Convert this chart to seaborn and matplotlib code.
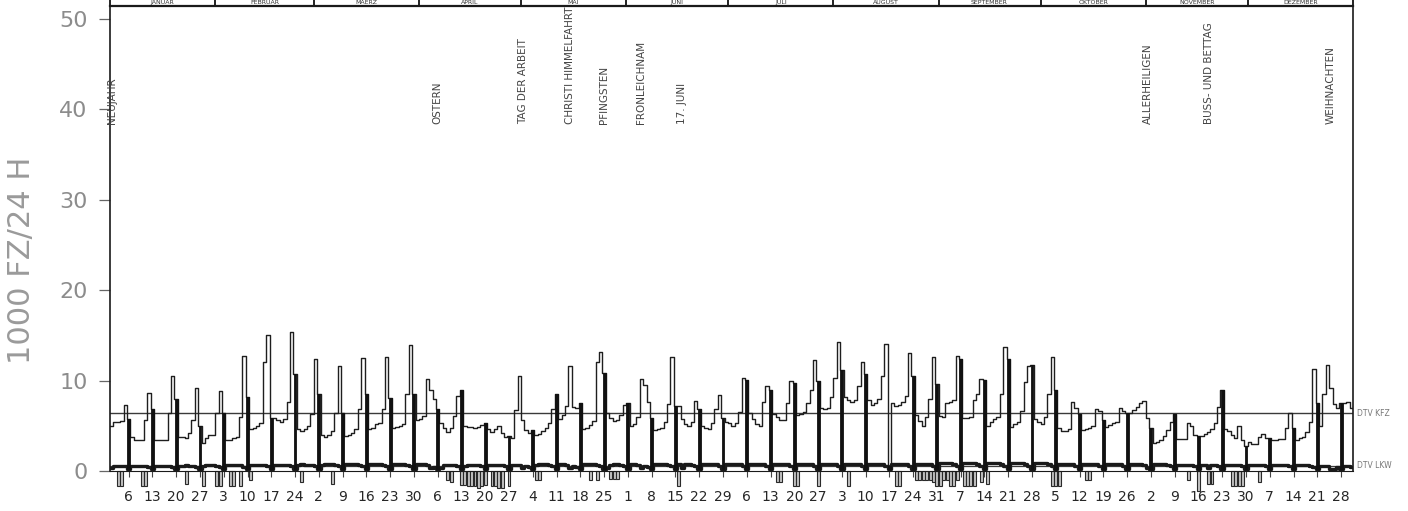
import numpy as np
import pandas as pd
import matplotlib
matplotlib.use("Agg")
import matplotlib.pyplot as plt
import matplotlib.transforms as mtransforms
import seaborn as sns

# -----------------------------
# Data: daily traffic 1980, 1000 Fz/24h, one row per week (Mon..Sun)
# -----------------------------
kfz_weeks = [
    [5.0, 5.4, 5.4, 5.5, 7.3, 5.8],
    [3.8, 3.4, 3.4, 3.4, 5.6, 8.6, 6.9],
    [3.4, 3.4, 3.4, 3.4, 6.4, 10.5, 8.0],
    [3.8, 3.8, 3.6, 4.2, 5.6, 9.2, 5.0],
    [3.1, 3.6, 4.0, 4.0, 6.4, 8.8, 6.4],
    [3.4, 3.4, 3.6, 3.8, 6.0, 12.7, 8.2],
    [4.6, 4.8, 5.0, 5.3, 12.0, 15.0, 5.9],
    [5.9, 5.6, 5.4, 5.8, 7.6, 15.4, 10.7],
    [4.6, 4.4, 4.6, 5.0, 6.3, 12.4, 8.5],
    [4.0, 3.8, 4.0, 4.4, 6.4, 11.6, 6.4],
    [3.9, 4.0, 4.2, 4.6, 6.8, 12.5, 8.5],
    [4.6, 4.7, 5.2, 5.3, 6.8, 12.6, 8.1],
    [4.8, 4.9, 5.0, 5.2, 8.5, 13.9, 8.5],
    [5.6, 5.8, 6.1, 10.2, 9.0, 8.0, 6.9],
    [5.3, 4.8, 4.3, 4.8, 6.1, 8.3, 9.0],
    [5.0, 4.9, 4.9, 4.8, 4.9, 5.1, 5.3],
    [4.6, 4.3, 4.6, 5.0, 4.2, 3.8, 3.9],
    [3.7, 6.7, 10.5, 5.6, 4.5, 4.2, 4.5],
    [4.0, 4.1, 4.4, 4.8, 5.3, 6.9, 8.5],
    [5.7, 6.2, 7.2, 11.6, 7.1, 7.0, 7.5],
    [4.6, 4.8, 5.1, 5.5, 12.0, 13.2, 10.8],
    [6.4, 5.9, 5.5, 5.6, 6.2, 7.3, 7.5],
    [5.0, 5.2, 6.0, 10.2, 9.5, 7.6, 5.9],
    [4.5, 4.6, 4.8, 5.4, 7.4, 12.6, 7.2],
    [7.2, 5.8, 5.2, 5.0, 5.4, 7.7, 6.9],
    [5.0, 4.8, 4.6, 5.3, 6.9, 8.4, 5.9],
    [5.4, 5.3, 5.0, 5.3, 6.5, 10.3, 10.1],
    [6.4, 5.8, 5.2, 5.0, 7.6, 9.4, 9.0],
    [6.3, 6.0, 5.6, 5.6, 7.5, 9.9, 9.7],
    [6.2, 6.3, 6.5, 7.5, 9.0, 12.3, 9.9],
    [7.0, 6.8, 7.0, 8.2, 10.3, 14.3, 11.2],
    [8.2, 7.8, 7.6, 7.8, 9.4, 12.1, 10.7],
    [7.8, 7.3, 7.5, 8.0, 10.5, 14.0, 0.6],
    [7.5, 7.2, 7.3, 7.6, 8.3, 13.0, 10.5],
    [6.2, 5.5, 5.0, 6.0, 8.0, 12.6, 9.6],
    [6.1, 6.0, 7.5, 7.6, 7.8, 12.7, 12.4],
    [5.9, 5.9, 6.0, 7.9, 8.5, 10.2, 10.1],
    [5.0, 5.4, 5.8, 6.0, 8.5, 13.7, 12.4],
    [4.9, 5.2, 5.4, 6.6, 9.8, 11.6, 11.7],
    [5.7, 5.4, 5.2, 6.0, 8.5, 12.6, 9.0],
    [4.7, 4.4, 4.4, 4.6, 7.6, 7.0, 6.3],
    [4.5, 4.6, 4.8, 5.0, 6.8, 6.6, 5.6],
    [4.9, 5.1, 5.3, 5.4, 7.0, 6.6, 6.4],
    [6.4, 6.7, 7.1, 7.5, 7.7, 5.9, 4.8],
    [3.1, 3.2, 3.4, 3.9, 4.5, 5.4, 6.3],
    [3.5, 3.5, 3.5, 5.3, 5.0, 4.0, 3.9],
    [3.9, 4.1, 4.3, 4.6, 5.3, 7.1, 9.0],
    [4.6, 4.4, 4.0, 3.7, 5.0, 3.4, 2.8],
    [3.2, 3.0, 3.0, 3.8, 4.1, 3.6, 3.7],
    [3.4, 3.4, 3.5, 3.5, 4.8, 6.4, 4.7],
    [3.4, 3.6, 3.8, 4.3, 5.4, 11.3, 7.5],
    [5.0, 8.5, 11.7, 9.2, 7.4, 7.0, 7.5],
    [7.5, 7.6, 7.0],
]

lkw_weeks = [
    [0.3, 0.5, 0.6, 0.6, 0.5, 0.2],
    [0.5, 0.6, 0.6, 0.6, 0.6, 0.4, 0.2],
    [0.6, 0.6, 0.6, 0.6, 0.6, 0.4, 0.2],
    [0.6, 0.6, 0.7, 0.6, 0.6, 0.4, 0.2],
    [0.6, 0.7, 0.7, 0.7, 0.6, 0.4, 0.2],
    [0.7, 0.7, 0.7, 0.7, 0.7, 0.4, 0.2],
    [0.7, 0.7, 0.7, 0.7, 0.7, 0.5, 0.2],
    [0.7, 0.7, 0.7, 0.7, 0.7, 0.5, 0.2],
    [0.7, 0.8, 0.7, 0.7, 0.7, 0.5, 0.2],
    [0.7, 0.8, 0.8, 0.8, 0.7, 0.5, 0.2],
    [0.8, 0.8, 0.8, 0.8, 0.7, 0.5, 0.2],
    [0.8, 0.8, 0.8, 0.8, 0.7, 0.5, 0.2],
    [0.8, 0.8, 0.8, 0.8, 0.7, 0.5, 0.2],
    [0.8, 0.8, 0.8, 0.7, 0.3, 0.4, 0.2],
    [0.3, 0.7, 0.7, 0.7, 0.7, 0.5, 0.2],
    [0.6, 0.7, 0.7, 0.7, 0.7, 0.5, 0.2],
    [0.7, 0.7, 0.7, 0.7, 0.7, 0.5, 0.2],
    [0.7, 0.7, 0.7, 0.3, 0.6, 0.4, 0.2],
    [0.7, 0.8, 0.8, 0.8, 0.7, 0.5, 0.2],
    [0.8, 0.8, 0.7, 0.3, 0.6, 0.4, 0.2],
    [0.8, 0.8, 0.8, 0.8, 0.7, 0.5, 0.2],
    [0.3, 0.7, 0.8, 0.8, 0.7, 0.5, 0.2],
    [0.8, 0.8, 0.7, 0.35, 0.6, 0.4, 0.2],
    [0.8, 0.8, 0.8, 0.8, 0.7, 0.5, 0.2],
    [0.8, 0.3, 0.8, 0.8, 0.7, 0.5, 0.2],
    [0.8, 0.8, 0.8, 0.8, 0.8, 0.5, 0.2],
    [0.8, 0.8, 0.8, 0.8, 0.8, 0.5, 0.2],
    [0.8, 0.8, 0.8, 0.8, 0.8, 0.5, 0.2],
    [0.8, 0.8, 0.8, 0.8, 0.8, 0.5, 0.2],
    [0.8, 0.8, 0.8, 0.8, 0.8, 0.5, 0.2],
    [0.8, 0.8, 0.8, 0.8, 0.8, 0.5, 0.2],
    [0.8, 0.8, 0.8, 0.8, 0.8, 0.5, 0.2],
    [0.8, 0.8, 0.8, 0.8, 0.8, 0.5, 0.2],
    [0.8, 0.8, 0.8, 0.8, 0.8, 0.5, 0.2],
    [0.8, 0.8, 0.8, 0.8, 0.8, 0.5, 0.2],
    [0.9, 0.9, 0.9, 0.9, 0.8, 0.5, 0.2],
    [0.9, 0.9, 0.9, 0.9, 0.8, 0.5, 0.2],
    [0.9, 0.9, 0.9, 0.9, 0.8, 0.5, 0.2],
    [0.9, 0.9, 0.9, 0.9, 0.8, 0.5, 0.2],
    [0.9, 0.9, 0.9, 0.9, 0.8, 0.5, 0.2],
    [0.8, 0.8, 0.8, 0.8, 0.8, 0.5, 0.2],
    [0.8, 0.8, 0.8, 0.8, 0.8, 0.5, 0.2],
    [0.8, 0.8, 0.8, 0.8, 0.8, 0.5, 0.2],
    [0.8, 0.8, 0.8, 0.8, 0.7, 0.3, 0.2],
    [0.8, 0.8, 0.8, 0.8, 0.7, 0.5, 0.2],
    [0.7, 0.7, 0.7, 0.7, 0.7, 0.5, 0.2],
    [0.7, 0.7, 0.3, 0.7, 0.7, 0.5, 0.2],
    [0.7, 0.7, 0.7, 0.7, 0.7, 0.5, 0.2],
    [0.7, 0.7, 0.7, 0.7, 0.7, 0.5, 0.2],
    [0.7, 0.7, 0.7, 0.7, 0.7, 0.5, 0.2],
    [0.7, 0.7, 0.7, 0.7, 0.6, 0.4, 0.2],
    [0.6, 0.6, 0.5, 0.2, 0.2, 0.4, 0.2],
    [0.5, 0.5, 0.4],
]

# day of month of every Sunday (x tick labels)
tick_labels = ["6", "13", "20", "27", "3", "10", "17", "24", "2", "9", "16", "23", "30",
               "6", "13", "20", "27", "4", "11", "18", "25", "1", "8", "15", "22", "29",
               "6", "13", "20", "27", "3", "10", "17", "24", "31", "7", "14", "21", "28",
               "5", "12", "19", "26", "2", "9", "16", "23", "30", "7", "14", "21", "28"]

month_names = ["JANUAR", "FEBRUAR", "MAERZ", "APRIL", "MAI", "JUNI", "JULI",
               "AUGUST", "SEPTEMBER", "OKTOBER", "NOVEMBER", "DEZEMBER"]
month_days = [31, 29, 31, 30, 31, 30, 31, 31, 30, 31, 30, 31]

holidays = ["NEUJAHR", "OSTERN", "TAG DER ARBEIT", "CHRISTI HIMMELFAHRT", "PFINGSTEN",
            "FRONLEICHNAM", "17. JUNI", "ALLERHEILIGEN", "BUSS- UND BETTAG", "WEIHNACHTEN"]
holiday_days = [0, 96, 121, 135, 145, 156, 168, 305, 323, 359]

# days marked below the zero line
neg_days = [2, 3, 9, 10, 22, 27, 31, 32, 35, 36,
            38, 41, 56, 65, 99, 100, 103, 104, 105, 106,
            107, 108, 109, 110, 112, 113, 114, 115, 117, 125,
            126, 141, 143, 147, 148, 149, 167, 196, 197, 201,
            202, 208, 217, 231, 232, 237, 238, 239, 240, 241,
            242, 243, 244, 245, 246, 247, 248, 249, 251, 252,
            253, 254, 256, 258, 277, 278, 279, 287, 288, 317,
            320, 323, 324, 330, 331, 332, 333, 338]
neg_depth = [1.7, 1.7, 1.7, 1.7, 1.4, 1.7, 1.7, 1.7, 1.7, 1.7,
             1.7, 1.0, 1.2, 1.4, 1.0, 1.2, 1.6, 1.6, 1.7, 1.7,
             1.7, 1.9, 1.7, 1.6, 1.7, 1.7, 1.9, 1.9, 1.7, 1.0,
             1.0, 1.0, 1.0, 0.9, 0.9, 0.9, 1.7, 1.2, 1.2, 1.7,
             1.7, 1.7, 1.7, 1.7, 1.7, 1.0, 1.0, 1.0, 1.0, 1.0,
             1.2, 1.7, 1.7, 1.0, 1.0, 1.7, 1.7, 1.0, 1.7, 1.7,
             1.7, 1.7, 1.2, 1.4, 1.7, 1.7, 1.7, 1.0, 1.0, 1.0,
             2.2, 1.4, 1.4, 1.7, 1.7, 1.7, 1.7, 1.2]

dtv_kfz = 6.4
dtv_lkw = 0.6

# -----------------------------
# Prepare
# -----------------------------
kfz = np.concatenate([np.array(w) for w in kfz_weeks])
lkw = np.concatenate([np.array(w) for w in lkw_weeks])
n_days = len(kfz)
days = np.arange(n_days)
sundays = days[5::7]

df = pd.DataFrame({
    "day": np.append(days, n_days),
    "kfz": np.append(kfz, kfz[-1]),
    "lkw": np.append(lkw, lkw[-1]),
})

sns.set_theme(style="white")
plt.rcParams["font.family"] = ["DejaVu Sans"]

fig = plt.figure(figsize=(14.08, 5.11), dpi=100)
ax = fig.add_axes([0.0781, 0.0783, 0.8828, 0.9100])
y_top = 51.4

# -----------------------------
# Draw
# -----------------------------
ax.axhline(dtv_kfz, color="#3a3a3a", lw=1.0, zorder=1)
ax.axhline(dtv_lkw, color="#3a3a3a", lw=0.9, zorder=1)

sns.lineplot(data=df, x="day", y="kfz", drawstyle="steps-post", estimator=None,
             color="#1e1e1e", lw=1.0, ax=ax, zorder=3)
sns.lineplot(data=df, x="day", y="lkw", drawstyle="steps-post", estimator=None,
             color="#1a1a1a", lw=2.4, ax=ax, zorder=4)

# Sunday values as heavy bars
ax.bar(sundays + 0.5, kfz[sundays] - lkw[sundays], bottom=lkw[sundays], width=0.85,
       color="#111111", edgecolor="#111111", lw=0.6, zorder=5)

ax.bar(np.array(neg_days) + 0.5, -np.array(neg_depth), width=0.85, facecolor="#c4c4c4",
       edgecolor="#2a2a2a", lw=0.8, clip_on=False, zorder=2)

# holiday labels
for name, d in zip(holidays, holiday_days):
    ax.text(d + 0.5, 38.3, name, rotation=90, ha="center", va="bottom",
            fontsize=7.5, color="#444444")

# DTV labels on the right
trans = mtransforms.blended_transform_factory(ax.transAxes, ax.transData)
ax.text(1.003, dtv_kfz, "DTV KFZ", transform=trans, fontsize=5.5, color="#777777",
        va="center", ha="left")
ax.text(1.003, dtv_lkw, "DTV LKW", transform=trans, fontsize=5.5, color="#777777",
        va="center", ha="left")

# month header strip above the plot
bounds = np.concatenate([[0], np.cumsum(month_days)])
ax.vlines(bounds, y_top, y_top + 1.0, color="#111111", lw=1.3, clip_on=False)
for name, a, b in zip(month_names, bounds[:-1], bounds[1:]):
    ax.text((a + b) / 2, y_top + 0.33, name, ha="center", va="center", fontsize=4.5,
            color="#333333", clip_on=False)

# -----------------------------
# Axes
# -----------------------------
ax.set_xlim(0, n_days)
ax.set_ylim(0, y_top)
ax.set_xlabel("")
ax.set_ylabel("")

ax.set_xticks(sundays + 0.5)
ax.set_xticklabels(tick_labels)
ax.set_yticks([0, 10, 20, 30, 40, 50])
ax.set_yticklabels(["0", "10", "20", "30", "40", "50"])
ax.tick_params(axis="x", bottom=True, length=4, width=0.8, color="#444444", pad=10,
               labelsize=10, labelcolor="#262626")
ax.tick_params(axis="y", left=True, length=8, width=0.9, color="#666666", pad=8,
               labelsize=16, labelcolor="#8c8c8c")

for side in ["left", "right", "top", "bottom"]:
    ax.spines[side].set_color("#1a1a1a")
ax.spines["left"].set_linewidth(1.2)
ax.spines["right"].set_linewidth(1.2)
ax.spines["top"].set_linewidth(1.6)
ax.spines["bottom"].set_linewidth(0.8)

fig.text(0.0156, 0.49, "1000 FZ/24 H", rotation=90, ha="center", va="center",
         fontsize=22, color="#9a9a9a")

fig.savefig("out.png", dpi=100)
